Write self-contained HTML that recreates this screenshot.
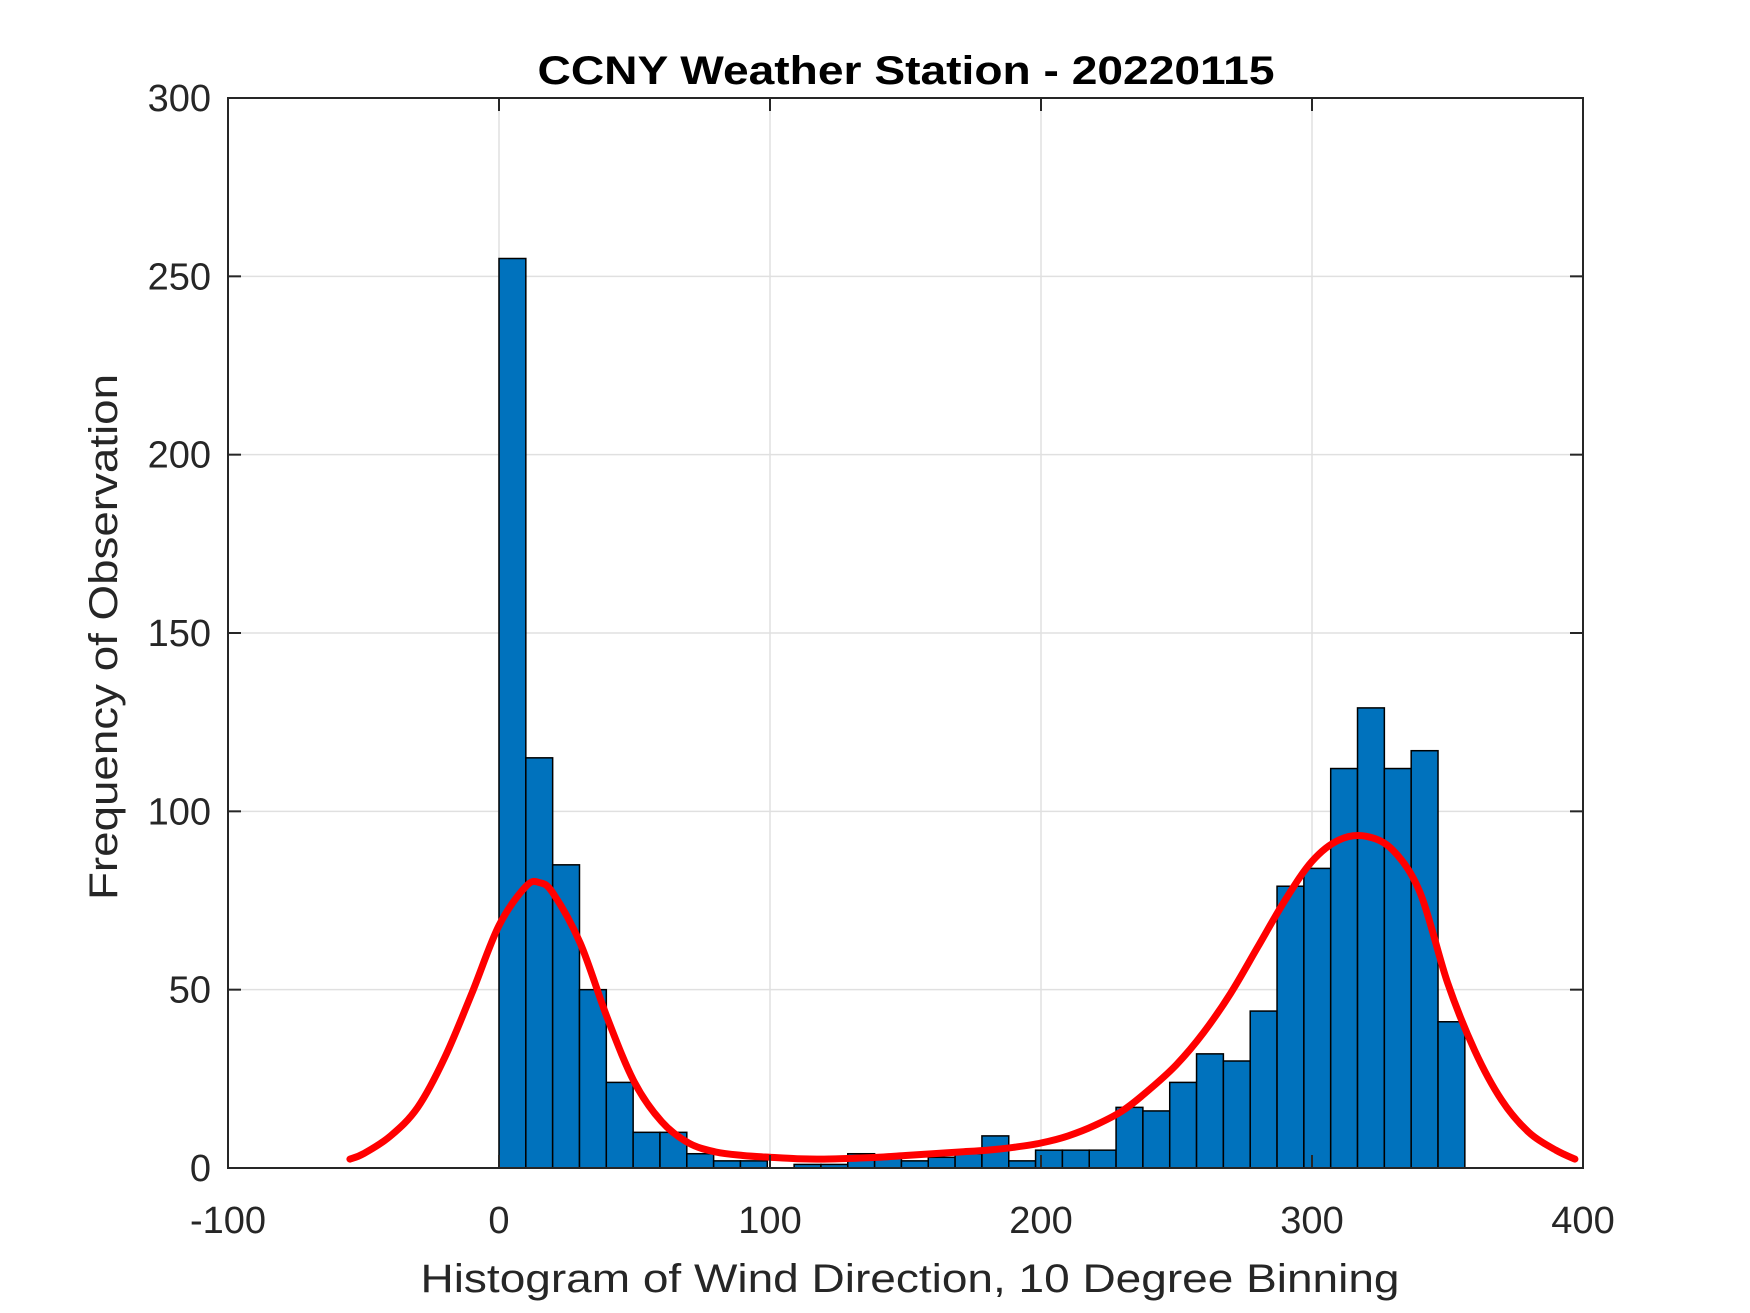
<!DOCTYPE html>
<html><head><meta charset="utf-8"><style>
html,body{margin:0;padding:0;background:#fff;}
svg{display:block;font-family:"Liberation Sans",Arial,sans-serif;}
</style></head><body>
<svg id="chart" width="1750" height="1313" viewBox="0 0 1750 1313">
<rect x="0" y="0" width="1750" height="1313" fill="#fff"/>
<g id="grid"></g>
<g id="bars"></g>
<g id="curve"></g>
<g id="axes"></g>
<text x="906" y="84" text-anchor="middle" font-size="40" font-weight="bold" textLength="737" lengthAdjust="spacingAndGlyphs" fill="#000">CCNY Weather Station - 20220115</text>
<text x="910" y="1292" text-anchor="middle" font-size="40" textLength="979" lengthAdjust="spacingAndGlyphs" fill="#262626">Histogram of Wind Direction, 10 Degree Binning</text>
<text x="0" y="0" transform="translate(117,637) rotate(-90)" text-anchor="middle" font-size="40" textLength="526" lengthAdjust="spacingAndGlyphs" fill="#262626">Frequency of Observation</text>
</svg>
<script>
const binStarts = [0,9.9,19.8,29.7,39.6,49.5,59.4,69.3,79.2,89.1,99,108.9,118.8,128.7,138.6,148.5,158.4,168.3,178.2,188.1,198,207.9,217.8,227.7,237.6,247.5,257.4,267.3,277.2,287.1,297,306.9,316.8,326.7,336.6,346.5];
const binCounts = [255,115,85,50,24,10,10,4,2,2,0,1,1,4,3,2,3,4,9,2,5,5,5,17,16,24,32,30,44,79,84,112,129,112,117,41];
const curveX = [-55,-50,-40,-30,-20,-10,0,10,15,20,30,40,50,60,70,80,90,100,110,120,130,140,150,160,170,180,190,200,210,220,230,240,250,260,270,280,290,300,310,320,330,340,350,360,370,380,390,397];
const curveY = [2.5,4,9,17,31,49,68,79,80,77,63,42,24,13,7,4.5,3.5,3,2.6,2.5,2.7,3,3.5,4,4.5,5,5.8,7,9,12,16,22,29,38,49,62,75,86,92,93,89,77,52,33,19,10,5,2.5];
const xTicks = [-100,0,100,200,300,400];
const yTicks = [0,50,100,150,200,250,300];
const binWidth = 9.9;

const L=228,R=1583,T=98,B=1168;
const xs=v=>L+(v+100)/500*(R-L);
const ys=v=>B-v/300*(B-T);
const NS="http://www.w3.org/2000/svg";
function mk(tag,attrs,parent){const e=document.createElementNS(NS,tag);for(const k in attrs)e.setAttribute(k,attrs[k]);parent.appendChild(e);return e;}
const grid=document.getElementById('grid'),bars=document.getElementById('bars'),curve=document.getElementById('curve'),axes=document.getElementById('axes');
xTicks.forEach(t=>{if(t>-100&&t<400){const l=mk('line',{x1:xs(t),x2:xs(t),y1:T,y2:B,stroke:'#e0e0e0','stroke-width':1.5},grid);

}});
yTicks.forEach(t=>{if(t>0&&t<300){const l=mk('line',{x1:L,x2:R,y1:ys(t),y2:ys(t),stroke:'#e0e0e0','stroke-width':1.5},grid);

}});
binStarts.forEach((s,i)=>{const c=binCounts[i];if(c<=0)return;
const r=mk('rect',{x:xs(s),y:ys(c),width:xs(s+binWidth)-xs(s),height:ys(0)-ys(c),fill:'#0072BD',stroke:'#000','stroke-width':1.5},bars);

});
// Catmull-Rom smooth path through curve points
const P=curveX.map((x,i)=>[xs(x),ys(curveY[i])]);
let d='M'+P[0][0].toFixed(1)+','+P[0][1].toFixed(1);
for(let i=0;i<P.length-1;i++){const p0=P[Math.max(0,i-1)],p1=P[i],p2=P[i+1],p3=P[Math.min(P.length-1,i+2)];
const c1=[p1[0]+(p2[0]-p0[0])/6,p1[1]+(p2[1]-p0[1])/6],c2=[p2[0]-(p3[0]-p1[0])/6,p2[1]-(p3[1]-p1[1])/6];
d+=' C'+c1[0].toFixed(1)+','+c1[1].toFixed(1)+' '+c2[0].toFixed(1)+','+c2[1].toFixed(1)+' '+p2[0].toFixed(1)+','+p2[1].toFixed(1);}
const pl=mk('path',{d:d,fill:'none',stroke:'#ff0000','stroke-width':7,'stroke-linejoin':'round','stroke-linecap':'round'},curve);


const box=mk('rect',{x:L,y:T,width:R-L,height:B-T,fill:'none',stroke:'#262626','stroke-width':2},axes);


xTicks.forEach(t=>{const x=xs(t);
mk('line',{x1:x,x2:x,y1:B,y2:B-13,stroke:'#262626','stroke-width':2},axes);
mk('line',{x1:x,x2:x,y1:T,y2:T+13,stroke:'#262626','stroke-width':2},axes);
const tx=mk('text',{x:x,y:1233,'text-anchor':'middle','font-size':38,fill:'#262626'},axes);tx.textContent=t;

});
yTicks.forEach(t=>{const y=ys(t);
mk('line',{x1:L,x2:L+13,y1:y,y2:y,stroke:'#262626','stroke-width':2},axes);
mk('line',{x1:R,x2:R-13,y1:y,y2:y,stroke:'#262626','stroke-width':2},axes);
const tx=mk('text',{x:211,y:y+13,'text-anchor':'end','font-size':38,fill:'#262626'},axes);tx.textContent=t;

});
</script>
</body></html>
